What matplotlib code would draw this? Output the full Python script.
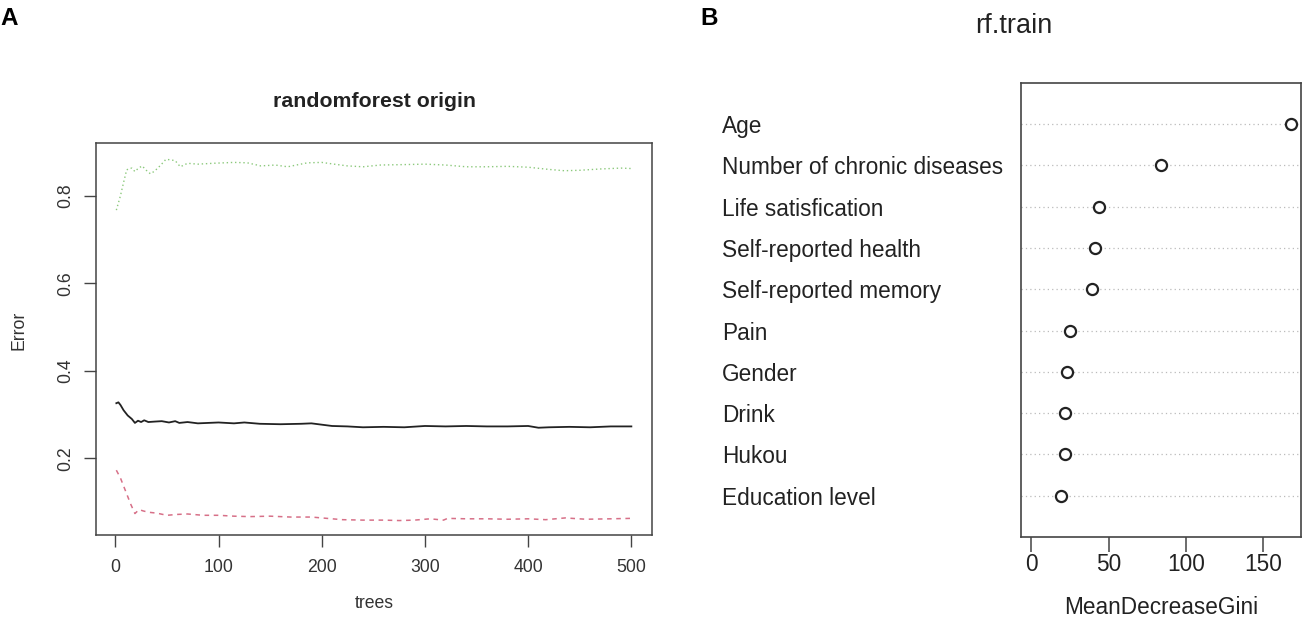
import numpy as np
import matplotlib
matplotlib.use("Agg")
import matplotlib.pyplot as plt

plt.rcParams['font.family'] = ['Liberation Sans', 'DejaVu Sans']

# panel A: error curves
oob_trees = [1, 3, 5, 8, 12, 16, 19, 22, 25, 28, 32, 38, 45, 52, 58, 62, 70, 80, 90, 100,
             115, 125, 140, 160, 180, 190, 200, 210, 225, 240, 260, 280, 300, 320, 340, 360,
             380, 400, 410, 420, 440, 460, 480, 500]
oob_err = [0.326, 0.328, 0.322, 0.310, 0.298, 0.290, 0.281, 0.286, 0.283, 0.287,
           0.283, 0.284, 0.285, 0.282, 0.285, 0.281, 0.283, 0.280, 0.281, 0.282,
           0.280, 0.282, 0.279, 0.278, 0.279, 0.280, 0.277, 0.274, 0.273, 0.271,
           0.272, 0.271, 0.274, 0.273, 0.274, 0.273, 0.273, 0.274, 0.270, 0.271,
           0.272, 0.271, 0.273, 0.273]

red_trees = [1, 5, 10, 15, 19, 23, 27, 32, 40, 50, 60, 70, 85, 100, 115, 130, 150, 170, 190,
             205, 220, 240, 260, 275, 290, 305, 318, 322, 340, 360, 380, 400, 417, 436, 456,
             480, 500]
red_err = [0.173, 0.155, 0.125, 0.095, 0.074, 0.083, 0.080, 0.077, 0.075, 0.070,
           0.072, 0.073, 0.070, 0.070, 0.068, 0.067, 0.068, 0.066, 0.066, 0.063,
           0.060, 0.059, 0.059, 0.058, 0.059, 0.062, 0.059, 0.063, 0.062, 0.062,
           0.061, 0.062, 0.060, 0.064, 0.061, 0.062, 0.063]

green_trees = [1, 5, 8, 11, 14, 16, 19, 22, 26, 30, 34, 38, 42, 46, 49, 53, 58, 63, 70, 80,
               95, 115, 128, 141, 155, 167, 186, 200, 212, 225, 240, 257, 280, 300, 320, 340,
               360, 380, 400, 420, 435, 450, 470, 490, 500]
green_err = [0.767, 0.800, 0.830, 0.859, 0.862, 0.863, 0.855, 0.862, 0.868, 0.858,
             0.850, 0.856, 0.865, 0.875, 0.883, 0.882, 0.880, 0.866, 0.874, 0.872,
             0.874, 0.876, 0.875, 0.868, 0.870, 0.866, 0.875, 0.876, 0.872, 0.868,
             0.866, 0.870, 0.871, 0.872, 0.870, 0.866, 0.866, 0.867, 0.865, 0.860,
             0.857, 0.858, 0.861, 0.863, 0.862]

# panel B: variable importance
features = ["Age", "Number of chronic diseases", "Life satisfication", "Self-reported health",
            "Self-reported memory", "Pain", "Gender", "Drink", "Hukou", "Education level"]
gini = [168, 84, 44, 41, 39, 25, 23, 22, 21.5, 19]

W, H = 1308, 626
fig = plt.figure(figsize=(W / 100, H / 100), dpi=100)

def box(l, r, t, b):
    return [l / W, 1 - b / H, (r - l) / W, (b - t) / H]

frame_col = "#444444"

# ---- A
ax = fig.add_axes(box(95.7, 652, 142.7, 535))
ax.plot(green_trees, green_err, color="#8cc97c", lw=1.0, linestyle=(0, (1, 2)))
ax.plot(red_trees, red_err, color="#d77088", lw=1.1, linestyle=(0, (3, 3)))
ax.plot(oob_trees, oob_err, color="#222222", lw=1.3)
ax.set_xlim(-19, 520)
ax.set_ylim(0.025, 0.921)
ax.set_xticks([0, 100, 200, 300, 400, 500])
ax.set_yticks([0.2, 0.4, 0.6, 0.8])
ax.set_yticklabels(["0.2", "0.4", "0.6", "0.8"], rotation=90, va="center")
ax.tick_params(axis="x", length=8.5, width=1, color=frame_col, labelsize=12.7, pad=9, labelcolor="#333333")
ax.tick_params(axis="y", length=8.5, width=1, color=frame_col, labelsize=12.7, pad=7, labelcolor="#333333")
for s in ax.spines.values():
    s.set_color(frame_col)
    s.set_linewidth(1.1)
fig.text(374 / W, 1 - 107 / H, "randomforest origin", ha="center", va="baseline",
         fontsize=15.3, fontweight="bold", color="#222222")
fig.text(374 / W, 1 - 603 / H, "trees", ha="center", va="center", fontsize=12.7, color="#333333")
fig.text(19 / W, 1 - 330 / H, "Error", ha="center", va="center", rotation=90,
         fontsize=12.7, color="#333333")

# ---- B
bx = fig.add_axes(box(1021, 1301, 82.7, 537))
ypos = np.arange(len(features), 0, -1)
for y in ypos:
    bx.axhline(y, color="#bbbbbb", lw=0.9, linestyle=(0, (1, 2.5)), zorder=1)
bx.plot(gini, ypos, linestyle="none", marker="o", markersize=8, markerfacecolor="white",
        markeredgecolor="#222222", markeredgewidth=1.6, zorder=3)
bx.set_xlim(-6.7, 174.7)
bx.set_ylim(0, 11)
bx.set_xticks([0, 50, 100, 150])
bx.set_yticks(ypos)
bx.set_yticklabels(features)
for lab in bx.get_yticklabels():
    lab.set_ha("left")
bx.tick_params(axis="y", length=0, pad=215.5, labelsize=16.3, labelcolor="#222222")
bx.tick_params(axis="x", length=10.8, width=1.1, color=frame_col, labelsize=16.3, pad=1,
               labelcolor="#222222")
for s in bx.spines.values():
    s.set_color(frame_col)
    s.set_linewidth(1.2)
fig.text(1161 / W, 1 - 607 / H, "MeanDecreaseGini", ha="center", va="center", fontsize=16.3,
         color="#222222")
fig.text(1014 / W, 1 - 33 / H, "rf.train", ha="center", va="baseline", fontsize=19.5,
         color="#222222")

fig.text(0 / W, 1 - 25 / H, "A", ha="left", va="baseline", fontsize=17.5, fontweight="bold")
fig.text(700 / W, 1 - 25 / H, "B", ha="left", va="baseline", fontsize=17.5, fontweight="bold")

fig.savefig("out.png", dpi=100)
